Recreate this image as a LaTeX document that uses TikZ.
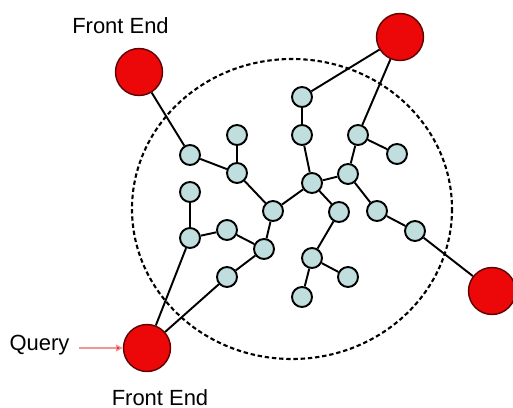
\documentclass[tikz,border=0pt]{standalone}
\usepackage{fontspec}
\setmainfont{Liberation Sans}
\usepackage{tikz}
\usetikzlibrary{positioning, arrows.meta}
\definecolor{peerfill}{RGB}{192,222,222}
\definecolor{frontred}{RGB}{236,8,8}
\definecolor{queryline}{RGB}{240,150,150}
\tikzset{
  peer/.style = {circle, draw=black, fill=peerfill, line width=1.1pt,
                 minimum size=0.4cm, inner sep=0pt},
  frontend/.style = {circle, draw=black!60!frontred, fill=frontred,
                     line width=0.8pt, minimum size=0.94cm, inner sep=0pt},
  peerlink/.style = {line width=1.1pt, draw=black},
  overlay/.style = {line width=1.2pt, dash pattern=on 2.5pt off 1.6pt},
  fetext/.style = {font=\fontsize{12.5}{14}\selectfont, anchor=base, inner sep=0pt}
}

\begin{document}
\begin{tikzpicture}[x=0.02cm, y=-0.02cm]
\useasboundingbox (0,0) rectangle (513,408);

% overlay boundary
\draw[overlay] (292,209) ellipse [x radius=160, y radius=150];

% peers
\node[peer] (a1) at (190,155) {};
\node[peer] (a2) at (237,135) {};
\node[peer] (a3) at (237,173) {};
\node[peer] (a4) at (190,192) {};
\node[peer] (a5) at (190,238) {};
\node[peer] (a6) at (227,230) {};
\node[peer] (a7) at (264,249) {};
\node[peer] (a8) at (227,277) {};
\node[peer] (a9) at (273,211) {};
\node[peer] (b1) at (302,97)  {};
\node[peer] (b2) at (302,135) {};
\node[peer] (b3) at (312,183) {};
\node[peer] (b4) at (358,135) {};
\node[peer] (b5) at (397,154) {};
\node[peer] (b6) at (348,174) {};
\node[peer] (b7) at (377,211) {};
\node[peer] (b8) at (415,231) {};
\node[peer] (c1) at (339,212) {};
\node[peer] (c2) at (312,258) {};
\node[peer] (c3) at (348,277) {};
\node[peer] (c4) at (302,297) {};

% front ends
\node[frontend] (fe1) at (139,72)  {};
\node[frontend] (fe2) at (400,37)  {};
\node[frontend] (fe3) at (147,348) {};
\node[frontend] (fe4) at (492,291) {};

\node[fetext] (fe1text) at (120.5,34) {Front End};
\node[fetext] (fe3text) at (160,405)  {Front End};
\node[fetext] (query)   at (39.5,350) {Query};

% links
\draw[peerlink] (fe1) -- (a1);
\draw[peerlink] (a1) -- (a3);
\draw[peerlink] (a2) -- (a3);
\draw[peerlink] (a3) -- (a9);
\draw[peerlink] (a9) -- (b3);
\draw[peerlink] (a9) -- (a7);
\draw[peerlink] (a4) -- (a5);
\draw[peerlink] (a5) -- (a6);
\draw[peerlink] (a6) -- (a7);
\draw[peerlink] (a8) -- (a7);
\draw[peerlink] (fe3) -- (a5);
\draw[peerlink] (fe3) -- (a8);
\draw[peerlink] (b1) -- (b2);
\draw[peerlink] (b2) -- (b3);
\draw[peerlink] (b3) -- (b6);
\draw[peerlink] (b3) -- (c1);
\draw[peerlink] (c1) -- (c2);
\draw[peerlink] (c2) -- (c3);
\draw[peerlink] (c2) -- (c4);
\draw[peerlink] (b6) -- (b4);
\draw[peerlink] (b4) -- (b5);
\draw[peerlink] (b6) -- (b7);
\draw[peerlink] (b7) -- (b8);
\draw[peerlink] (b8) -- (fe4);
\draw[peerlink] (fe2) -- (b1);
\draw[peerlink] (fe2) -- (b4);

\draw[queryline, line width=0.8pt, -{Triangle[length=4pt, width=4pt, fill=frontred]}]
  ([xshift=5pt]query.east |- fe3.west) -- (fe3.west);
\end{tikzpicture}
\end{document}
